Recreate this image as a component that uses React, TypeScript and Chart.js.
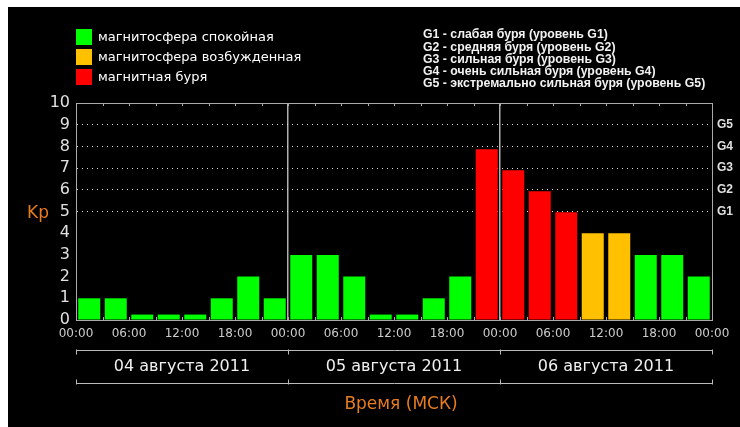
import React, { useEffect, useRef } from "react";
import { Chart, registerables } from "chart.js";

Chart.register(...registerables);

const dayLabels = ["04 августа 2011", "05 августа 2011", "06 августа 2011"];
const timeTicks = ["00:00", "06:00", "12:00", "18:00", "00:00", "06:00", "12:00", "18:00", "00:00", "06:00", "12:00", "18:00", "00:00"];
const kpValues = [1, 1, 0.25, 0.25, 0.25, 1, 2, 1, 3, 3, 2, 0.25, 0.25, 1, 2, 7.87, 6.9, 5.93, 4.96, 4, 4, 3, 3, 2];
const gLevels = ["G1", "G2", "G3", "G4", "G5"];
const legendLabels = ["магнитосфера спокойная", "магнитосфера возбужденная", "магнитная буря"];
const legendColors = ["#00ff00", "#ffc000", "#ff0000"];
const stormLegend = [
  "G1 - слабая буря (уровень G1)",
  "G2 - средняя буря (уровень G2)",
  "G3 - сильная буря (уровень G3)",
  "G4 - очень сильная буря (уровень G4)",
  "G5 - экстремально сильная буря (уровень G5)",
];
const yTitle = "Kp";
const xTitle = "Время (МСК)";

const ORANGE = "#e77b1f";
const AXIS = "#aaaaaa";

function barColor(v: number) {
  if (v >= 4.5) return legendColors[2];
  if (v >= 3.5) return legendColors[1];
  return legendColors[0];
}

const decorPlugin = {
  id: "decor",
  beforeDraw(chart: any) {
    const { ctx, width, height } = chart;
    ctx.save();
    ctx.fillStyle = "#000";
    ctx.fillRect(0, 0, width, height);
    ctx.restore();
  },
  afterDraw(chart: any) {
    const { ctx, chartArea } = chart;
    const xs = chart.scales.x;
    ctx.save();
    // top frame line
    ctx.strokeStyle = AXIS;
    ctx.lineWidth = 1;
    ctx.beginPath();
    ctx.moveTo(chartArea.left, chartArea.top + 0.5);
    ctx.lineTo(chartArea.right, chartArea.top + 0.5);
    ctx.stroke();
    // small inner tick marks at slot boundaries
    for (let i = 1; i < kpValues.length; i++) {
      const px = Math.round(xs.getPixelForValue(i)) + 0.5;
      ctx.beginPath();
      ctx.moveTo(px, chartArea.top);
      ctx.lineTo(px, chartArea.top + 3);
      ctx.moveTo(px, chartArea.bottom);
      ctx.lineTo(px, chartArea.bottom - 3);
      ctx.stroke();
    }
    // left legend
    ctx.textBaseline = "middle";
    ctx.textAlign = "left";
    ctx.font = "13px 'DejaVu Sans'";
    legendLabels.forEach((lab, i) => {
      const y = 22 + i * 20;
      ctx.fillStyle = legendColors[i];
      ctx.fillRect(68, y, 16, 16);
      ctx.fillStyle = "#ffffff";
      ctx.fillText(lab, 90, y + 8.5);
    });
    // right legend
    ctx.font = "bold 12.3px 'Liberation Sans'";
    ctx.fillStyle = "#f2f2f2";
    stormLegend.forEach((lab, i) => {
      ctx.fillText(lab, 415, 28 + i * 12.25);
    });
    // Kp title
    ctx.font = "17px 'DejaVu Sans'";
    ctx.fillStyle = ORANGE;
    ctx.textBaseline = "alphabetic";
    ctx.fillText(yTitle, 19, 211);
    // day brackets
    const dayBounds = [0, 8, 16, 24].map((v) => Math.round(xs.getPixelForValue(v)) + 0.5);
    const y1 = 343.5;
    const y2 = 376.5;
    ctx.strokeStyle = "#bbbbbb";
    ctx.lineWidth = 1;
    ctx.beginPath();
    ctx.moveTo(dayBounds[0], y1);
    ctx.lineTo(dayBounds[3], y1);
    ctx.moveTo(dayBounds[0], y2);
    ctx.lineTo(dayBounds[3], y2);
    dayBounds.forEach((bx) => {
      ctx.moveTo(bx, y1 - 1);
      ctx.lineTo(bx, y1 + 4);
      ctx.moveTo(bx, y2 - 4);
      ctx.lineTo(bx, y2 + 1);
    });
    ctx.stroke();
    ctx.font = "16px 'DejaVu Sans'";
    ctx.fillStyle = "#f0f0f0";
    ctx.textAlign = "center";
    ctx.textBaseline = "middle";
    dayLabels.forEach((lab, i) => {
      const cx = (xs.getPixelForValue(i * 8) + xs.getPixelForValue(i * 8 + 8)) / 2;
      ctx.fillText(lab, cx, 360);
    });
    // x title
    ctx.font = "17px 'DejaVu Sans'";
    ctx.fillStyle = ORANGE;
    ctx.fillText(xTitle, 393, 398);
    ctx.restore();
  },
};

export default function App() {
  const ref = useRef<HTMLCanvasElement | null>(null);
  useEffect(() => {
    document.documentElement.style.overflow = "hidden";
    document.body.style.overflow = "hidden";
    const canvas = ref.current!;
    const chart = new Chart(canvas, {
      type: "bar",
      data: {
        datasets: [
          {
            data: kpValues.map((y, i) => ({ x: i + 0.5, y })),
            backgroundColor: kpValues.map(barColor),
            borderWidth: 0,
            barPercentage: 0.83,
            categoryPercentage: 1,
          },
        ],
      },
      options: {
        responsive: false,
        animation: false,
        maintainAspectRatio: false,
        layout: { padding: { top: 96, left: 0, right: 0, bottom: 0 } },
        plugins: { legend: { display: false }, tooltip: { enabled: false } },
        scales: {
          x: {
            type: "linear",
            position: "bottom",
            min: 0,
            max: 24,
            offset: false,
            afterFit: (s: any) => {
              s.height = 107;
            },
            ticks: {
              stepSize: 1,
              autoSkip: false,
              maxRotation: 0,
              padding: 7,
              color: "#cccccc",
              font: { family: "'DejaVu Sans'", size: 12 },
              callback: (v: any) => (Number(v) % 2 === 0 ? timeTicks[Number(v) / 2] : ""),
            },
            grid: {
              offset: false,
              drawTicks: false,
              lineWidth: 1.5,
              color: (c: any) => (c.tick && (c.tick.value === 8 || c.tick.value === 16) ? "#b0b0b0" : "transparent"),
            },
            border: { display: true, color: AXIS, width: 1 },
          },
          y: {
            position: "left",
            min: 0,
            max: 10,
            afterFit: (s: any) => {
              s.width = 68;
            },
            ticks: {
              stepSize: 1,
              autoSkip: false,
              padding: 6,
              color: "#e0e0e0",
              font: { family: "'DejaVu Sans'", size: 16 },
            },
            grid: {
              drawTicks: false,
              lineWidth: 1,
              color: (c: any) => (c.tick && c.tick.value >= 5 && c.tick.value <= 9 ? "#dddddd" : "transparent"),
            },
            border: { display: true, color: AXIS, width: 1, dash: [1, 4] },
          },
          y2: {
            position: "right",
            min: 0,
            max: 10,
            afterFit: (s: any) => {
              s.width = 28;
            },
            ticks: {
              stepSize: 1,
              autoSkip: false,
              padding: 5,
              color: "#e0e0e0",
              font: { family: "'Liberation Sans'", size: 12, weight: "bold" },
              callback: (v: any) => {
                const n = Number(v);
                return n >= 5 && n <= 9 ? gLevels[n - 5] : "";
              },
            },
            grid: { display: false, drawTicks: false },
            border: { display: true, color: AXIS, width: 1 },
          },
        },
      } as any,
      plugins: [decorPlugin],
    });
    return () => chart.destroy();
  }, []);
  return (
    <div style={{ position: "fixed", left: 8, top: 7, width: 732, height: 420, background: "#000" }}>
      <canvas ref={ref} width={732} height={420} style={{ display: "block", width: 732, height: 420 }} />
    </div>
  );
}
